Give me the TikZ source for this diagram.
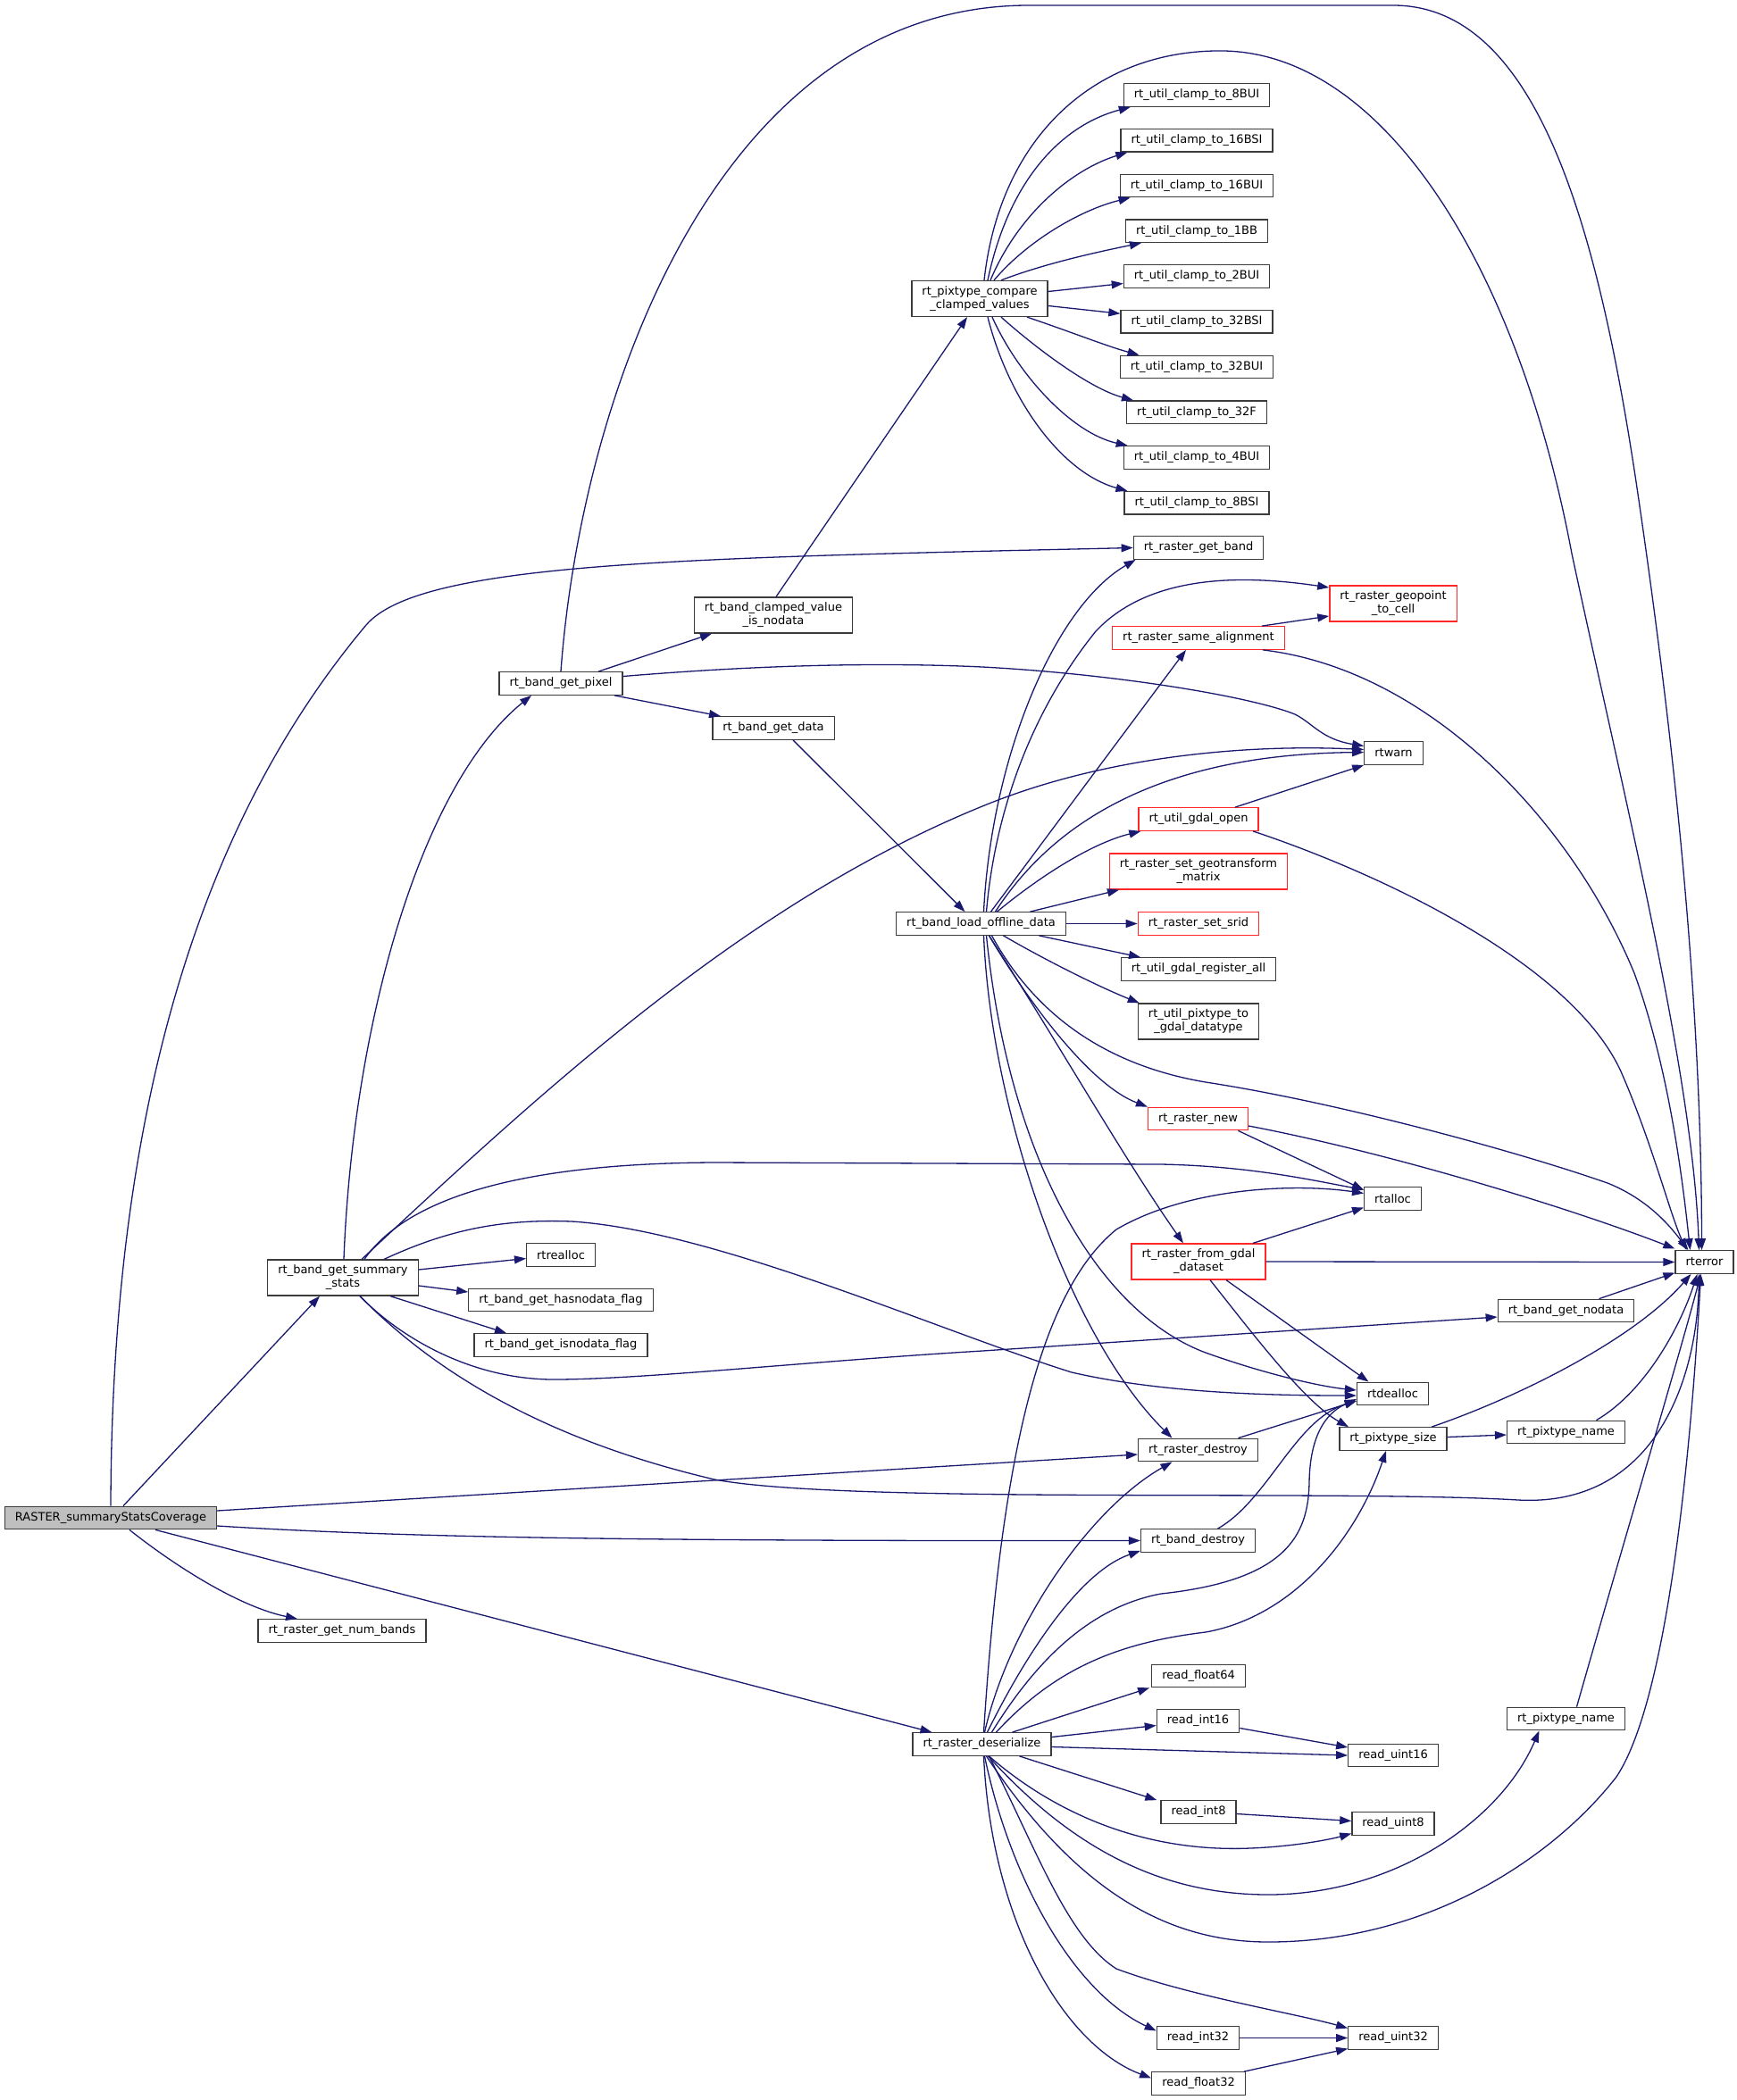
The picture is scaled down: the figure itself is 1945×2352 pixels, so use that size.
\documentclass[tikz,border=0pt]{standalone}
\usepackage{fontspec}
\setmainfont{DejaVu Sans}
\usetikzlibrary{arrows.meta}
\definecolor{edgecol}{RGB}{25,25,112}
\definecolor{bordercol}{RGB}{60,60,60}
\definecolor{redcol}{RGB}{255,40,40}
\definecolor{rootfill}{RGB}{191,191,191}
\begin{document}
\begin{tikzpicture}[x=1pt,y=-1pt,
  nd/.style={draw=bordercol, line width=1.3pt, fill=white, rectangle, inner xsep=11.5pt, inner ysep=6pt, minimum height=25.5pt, align=center, font=\fontsize{13}{15}\selectfont},
  ndr/.style={nd, draw=redcol},
  arr/.style={draw=edgecol, line width=1.3pt, -{Triangle[length=13pt,width=9pt]}}]
\fill[white] (0,0) rectangle (1945,2352);
\useasboundingbox (0,0) rectangle (1945,2352);
% nodes
\node[nd, fill=rootfill] (R) at (124,1700) {RASTER\_summaryStatsCoverage};
\node[nd] (NB) at (383,1826.5) {rt\_raster\_get\_num\_bands};
\node[nd] (S) at (384,1431) {rt\_band\_get\_summary\\\_stats};
\node[nd] (RE) at (628,1405.5) {rtrealloc};
\node[nd] (HN) at (628,1456) {rt\_band\_get\_hasnodata\_flag};
\node[nd] (IN) at (628,1506.5) {rt\_band\_get\_isnodata\_flag};
\node[nd] (P) at (628,765.5) {rt\_band\_get\_pixel};
\node[nd] (CV) at (866,689) {rt\_band\_clamped\_value\\\_is\_nodata};
\node[nd] (GD) at (866,815.5) {rt\_band\_get\_data};
\node[nd] (C) at (1097,334.5) {rt\_pixtype\_compare\\\_clamped\_values};
\node[nd] (CL1) at (1340,106.5) {rt\_util\_clamp\_to\_8BUI};
\node[nd] (CL2) at (1340,157.25) {rt\_util\_clamp\_to\_16BSI};
\node[nd] (CL3) at (1340,208) {rt\_util\_clamp\_to\_16BUI};
\node[nd] (CL4) at (1340,258.75) {rt\_util\_clamp\_to\_1BB};
\node[nd] (CL5) at (1340,309.5) {rt\_util\_clamp\_to\_2BUI};
\node[nd] (CL6) at (1340,360.25) {rt\_util\_clamp\_to\_32BSI};
\node[nd] (CL7) at (1340,411) {rt\_util\_clamp\_to\_32BUI};
\node[nd] (CL8) at (1340,461.75) {rt\_util\_clamp\_to\_32F};
\node[nd] (CL9) at (1340,512.5) {rt\_util\_clamp\_to\_4BUI};
\node[nd] (CL10) at (1340,563.25) {rt\_util\_clamp\_to\_8BSI};
\node[nd] (GB) at (1342,613.5) {rt\_raster\_get\_band};
\node[ndr] (GC) at (1560,676) {rt\_raster\_geopoint\\\_to\_cell};
\node[ndr] (SA) at (1342,714.5) {rt\_raster\_same\_alignment};
\node[nd] (W) at (1560.5,843.5) {rtwarn};
\node[ndr] (GO) at (1342,917.5) {rt\_util\_gdal\_open};
\node[ndr] (GT) at (1342,976) {rt\_raster\_set\_geotransform\\\_matrix};
\node[ndr] (SR) at (1342,1034.5) {rt\_raster\_set\_srid};
\node[nd] (RA) at (1342,1085.5) {rt\_util\_gdal\_register\_all};
\node[nd] (PG) at (1342,1144) {rt\_util\_pixtype\_to\\\_gdal\_datatype};
\node[nd] (L) at (1098.5,1034.5) {rt\_band\_load\_offline\_data};
\node[ndr] (RN) at (1341.5,1253) {rt\_raster\_new};
\node[nd] (AL) at (1559.5,1342.5) {rtalloc};
\node[ndr] (FG) at (1342,1413) {rt\_raster\_from\_gdal\\\_dataset};
\node[nd] (E) at (1908.5,1413.5) {rterror};
\node[nd] (ND) at (1753.5,1468) {rt\_band\_get\_nodata};
\node[nd] (DA) at (1559.5,1561) {rtdealloc};
\node[nd] (PS) at (1560,1611.5) {rt\_pixtype\_size};
\node[nd] (PN1) at (1753.5,1604) {rt\_pixtype\_name};
\node[nd] (RD) at (1341.5,1624) {rt\_raster\_destroy};
\node[nd] (BD) at (1341.5,1725.5) {rt\_band\_destroy};
\node[nd] (F64) at (1342,1877) {read\_float64};
\node[nd] (I16) at (1341.5,1927.5) {read\_int16};
\node[nd] (U16) at (1560,1966) {read\_uint16};
\node[nd] (PN2) at (1753.5,1925) {rt\_pixtype\_name};
\node[nd] (D) at (1099.5,1953.5) {rt\_raster\_deserialize};
\node[nd] (I8) at (1342,2029.5) {read\_int8};
\node[nd] (U8) at (1560,2042.5) {read\_uint8};
\node[nd] (I32) at (1341.5,2282.5) {read\_int32};
\node[nd] (U32) at (1560,2282.5) {read\_uint32};
\node[nd] (F32) at (1342,2333.5) {read\_float32};
% edges from R
\draw[arr] (R.north) .. controls (125,1300) and (200,950) .. (410,700) .. controls (470,630) and (760,625) .. (GB.west);
\draw[arr] ([xshift=14pt]R.north) -- ([xshift=-26pt]S.south);
\draw[arr] ([yshift=8pt]R.east) -- ([yshift=-5pt]RD.west);
\draw[arr] ([yshift=-9pt]R.east) .. controls (450,1722) and (700,1726) .. (BD.west);
\draw[arr] ([xshift=21pt]R.south) .. controls (200,1757) and (270,1800) .. ([xshift=-50pt]NB.north);
\draw[arr] ([xshift=50pt]R.south) -- ([xshift=-56pt]D.north);
% edges from S
\draw[arr] ([xshift=1pt]S.north) .. controls (395,1150) and (470,880) .. ([xshift=-33pt]P.south);
\draw[arr] ([xshift=21pt]S.north) .. controls (612,1217) and (837,1010) .. (1100,903) .. controls (1231,849) and (1388,833) .. ([yshift=4pt]W.west);
\draw[arr] ([xshift=24pt]S.north) .. controls (450,1350) and (560,1303) .. (800,1302) -- (1300,1304) .. controls (1400,1306) and (1470,1322) .. ([yshift=10pt]AL.west);
\draw[arr] ([yshift=9pt]S.east) -- ([yshift=-4pt]RE.west);
\draw[arr] ([yshift=-9pt]S.east) -- ([yshift=9pt]HN.west);
\draw[arr] ([xshift=53pt]S.south) -- ([xshift=-61pt]IN.north);
\draw[arr] ([xshift=46pt]S.north) .. controls (500,1378) and (560,1365) .. (640,1368) .. controls (800,1378) and (1050,1490) .. (1200,1537) .. controls (1300,1560) and (1420,1563) .. ([yshift=-2pt]DA.west);
\draw[arr] ([xshift=19pt]S.south) .. controls (450,1500) and (530,1545) .. (620,1545) .. controls (720,1545) and (900,1525) .. (1100,1513) -- ([yshift=-7pt]ND.west);
\draw[arr] ([xshift=19pt]S.south) .. controls (480,1530) and (600,1610) .. (800,1657) .. controls (950,1685) and (1500,1668) .. (1700,1680) .. controls (1850,1688) and (1900,1550) .. ([xshift=-6pt]E.south);
% edges from P
\draw[arr] (P.north) .. controls (650,450) and (800,8) .. (1150,6) -- (1560,6) .. controls (1720,6) and (1790,250) .. (1835,560) .. controls (1870,800) and (1905,1100) .. ([xshift=-3pt]E.north);
\draw[arr] ([xshift=42pt]P.north) -- ([xshift=-69pt]CV.south);
\draw[arr] ([xshift=60pt]P.south) -- ([xshift=-59pt]GD.north);
\draw[arr] ([yshift=8pt]P.east) .. controls (800,749) and (950,740) .. (1100,747) .. controls (1250,755) and (1400,780) .. (1450,800) .. controls (1470,810) and (1480,828) .. ([yshift=8pt]W.west);
% CV, GD
\draw[arr] ([xshift=3pt]CV.north) -- ([xshift=-14pt]C.south);
\draw[arr] ([xshift=22pt]GD.south) -- ([xshift=-18pt]L.north);
% edges from C
\draw[arr] ([xshift=5pt]C.north) .. controls (1120,150) and (1230,55) .. (1370,57) .. controls (1550,60) and (1700,300) .. (1760,620) .. controls (1820,900) and (1895,1200) .. ([xshift=-6pt]E.north);
\draw[arr] ([xshift=9pt]C.north) .. controls (1130,200) and (1190,140) .. ([xshift=8pt]CL1.south west);
\draw[arr] ([xshift=12pt]C.north) .. controls (1140,240) and (1200,190) .. ([xshift=8pt]CL2.south west);
\draw[arr] ([xshift=16pt]C.north) .. controls (1150,270) and (1210,235) .. ([xshift=12pt]CL3.south west);
\draw[arr] ([xshift=24pt]C.north) .. controls (1170,295) and (1230,282) .. ([xshift=18pt]CL4.south west);
\draw[arr] ([yshift=8pt]C.east) -- ([yshift=-8pt]CL5.west);
\draw[arr] ([yshift=-8pt]C.east) -- ([yshift=9pt]CL6.west);
\draw[arr] ([xshift=53pt]C.south) .. controls (1200,372) and (1240,388) .. ([xshift=22pt]CL7.north west);
\draw[arr] ([xshift=24pt]C.south) .. controls (1160,390) and (1220,435) .. ([xshift=8pt]CL8.north west);
\draw[arr] ([xshift=14pt]C.south) .. controls (1140,420) and (1200,485) .. ([xshift=5pt]CL9.north west);
\draw[arr] ([xshift=9pt]C.south) .. controls (1130,450) and (1190,530) .. ([xshift=4pt]CL10.north west);
% edges from L
\draw[arr] ([xshift=3pt]L.north) .. controls (1110,850) and (1180,680) .. ([xshift=3pt]GB.south west);
\draw[arr] ([xshift=6pt]L.north) .. controls (1115,900) and (1160,790) .. (1227,707) .. controls (1290,640) and (1400,645) .. ([yshift=18pt]GC.west);
\draw[arr] ([xshift=11pt]L.north) -- ([xshift=-14pt]SA.south);
\draw[arr] ([xshift=16pt]L.north) .. controls (1180,920) and (1300,845) .. ([yshift=1pt]W.west);
\draw[arr] ([xshift=18pt]L.north) .. controls (1160,985) and (1220,945) .. ([xshift=3pt]GO.south west);
\draw[arr] ([xshift=55pt]L.north) -- ([xshift=-89pt]GT.south);
\draw[arr] (L.east) -- (SR.west);
\draw[arr] ([xshift=65pt]L.south) -- ([xshift=-65pt]RA.north);
\draw[arr] ([xshift=25pt]L.south) .. controls (1170,1075) and (1230,1105) .. ([xshift=2pt]PG.north west);
\draw[arr] ([xshift=12pt]L.south) .. controls (1150,1120) and (1220,1190) .. (1350,1212) .. controls (1500,1235) and (1700,1290) .. (1800,1325) .. controls (1850,1345) and (1875,1380) .. ([xshift=-18pt]E.north);
\draw[arr] ([xshift=9pt]L.south) .. controls (1150,1120) and (1220,1215) .. (RN.north west);
\draw[arr] ([xshift=9pt]L.south) .. controls (1180,1160) and (1260,1300) .. ([xshift=-17pt]FG.north);
\draw[arr] ([xshift=6pt]L.south) .. controls (1130,1300) and (1230,1470) .. (1350,1515) .. controls (1420,1540) and (1480,1553) .. ([yshift=4pt]DA.west);
\draw[arr] ([xshift=3pt]L.south) .. controls (1110,1250) and (1200,1500) .. ([xshift=-29pt]RD.north);
% SA, GO
\draw[arr] ([xshift=71pt]SA.north) -- ([yshift=-14pt]GC.west);
\draw[arr] ([xshift=72pt]SA.south) .. controls (1600,750) and (1760,920) .. (1830,1090) .. controls (1870,1200) and (1885,1330) .. ([xshift=-16pt]E.north);
\draw[arr] ([xshift=41pt]GO.north) -- (W.south west);
\draw[arr] ([xshift=61pt]GO.south) .. controls (1550,980) and (1760,1080) .. (1815,1200) .. controls (1850,1280) and (1870,1360) .. ([xshift=-20pt]E.north);
% RN, FG
\draw[arr] ([xshift=45pt]RN.south) -- ([yshift=10pt]AL.west);
\draw[arr] ([yshift=-8pt]RN.east) .. controls (1550,1290) and (1750,1350) .. ([yshift=15pt]E.west);
\draw[arr] ([xshift=61pt]FG.north) -- ([yshift=-10pt]AL.west);
\draw[arr] (FG.east) -- (E.west);
\draw[arr] ([xshift=31pt]FG.south) -- ([xshift=-27pt]DA.north);
\draw[arr] ([xshift=13pt]FG.south) .. controls (1400,1490) and (1460,1570) .. ([xshift=-50pt]PS.north);
% ND, PS, PN1, RD, BD
\draw[arr] ([xshift=37pt]ND.north) -- ([yshift=-12pt]E.west);
\draw[arr] ([xshift=43pt]PS.north) .. controls (1700,1565) and (1830,1500) .. ([xshift=-15pt]E.south);
\draw[arr] ([yshift=2pt]PS.east) -- ([yshift=-3pt]PN1.west);
\draw[arr] ([xshift=34pt]PN1.north) .. controls (1840,1560) and (1880,1490) .. ([xshift=-8pt]E.south);
\draw[arr] ([xshift=45pt]RD.north) -- ([yshift=-8pt]DA.west);
\draw[arr] ([xshift=22pt]BD.north) .. controls (1420,1680) and (1450,1590) .. ([yshift=-8pt]DA.west);
% edges from D
\draw[arr] ([xshift=2pt]D.north) .. controls (1120,1650) and (1160,1450) .. (1250,1377) .. controls (1330,1330) and (1450,1325) .. ([yshift=6pt]AL.west);
\draw[arr] ([xshift=3pt]D.north) .. controls (1130,1820) and (1220,1690) .. ([xshift=-29pt]RD.south);
\draw[arr] ([xshift=6pt]D.north) .. controls (1150,1850) and (1210,1760) .. ([yshift=2pt]BD.south west);
\draw[arr] ([xshift=11pt]D.north) .. controls (1160,1860) and (1220,1800) .. (1300,1785) .. controls (1440,1770) and (1465,1720) .. (1466,1660) .. controls (1467,1600) and (1490,1580) .. ([yshift=-6pt]DA.west);
\draw[arr] ([xshift=16pt]D.north) .. controls (1180,1870) and (1250,1840) .. (1350,1828) .. controls (1450,1810) and (1520,1720) .. ([xshift=-8pt]PS.south);
\draw[arr] ([xshift=34pt]D.north) -- ([xshift=-2pt]F64.south west);
\draw[arr] ([yshift=8pt]D.east) -- ([yshift=-5pt]I16.west);
\draw[arr] ([yshift=-3pt]D.east) -- (U16.west);
\draw[arr] ([xshift=42pt]D.south) -- ([xshift=-4pt]I8.north west);
\draw[arr] ([xshift=8pt]D.south) .. controls (1180,2030) and (1280,2075) .. (1400,2070) .. controls (1450,2068) and (1490,2060) .. ([yshift=-11pt]U8.west);
\draw[arr] ([xshift=7pt]D.south) .. controls (1200,2070) and (1300,2122) .. (1420,2122) .. controls (1560,2122) and (1680,2040) .. ([xshift=-30pt]PN2.south);
\draw[arr] ([xshift=5pt]D.south) .. controls (1200,2110) and (1300,2175) .. (1420,2175) .. controls (1600,2175) and (1740,2080) .. (1810,1990) .. controls (1870,1900) and (1895,1600) .. ([xshift=-4pt]E.south);
\draw[arr] ([xshift=8pt]D.south) .. controls (1160,2070) and (1195,2170) .. (1250,2205) .. controls (1330,2235) and (1450,2255) .. ([yshift=11pt]U32.west);
\draw[arr] ([xshift=3pt]D.south) .. controls (1130,2100) and (1200,2230) .. ([yshift=8pt]I32.west);
\draw[arr] ([xshift=2pt]D.south) .. controls (1110,2150) and (1190,2290) .. ([yshift=6pt]F32.west);
% read_* and PN2
\draw[arr] ([yshift=-8pt]I16.east) -- ([yshift=9pt]U16.west);
\draw[arr] ([yshift=-2pt]I8.east) -- ([yshift=3pt]U8.west);
\draw[arr] (I32.east) -- (U32.west);
\draw[arr] ([xshift=51pt]F32.north) -- ([yshift=-12pt]U32.west);
\draw[arr] ([xshift=12pt]PN2.north) .. controls (1820,1720) and (1880,1520) .. ([xshift=-4pt]E.south);
\end{tikzpicture}
\end{document}
